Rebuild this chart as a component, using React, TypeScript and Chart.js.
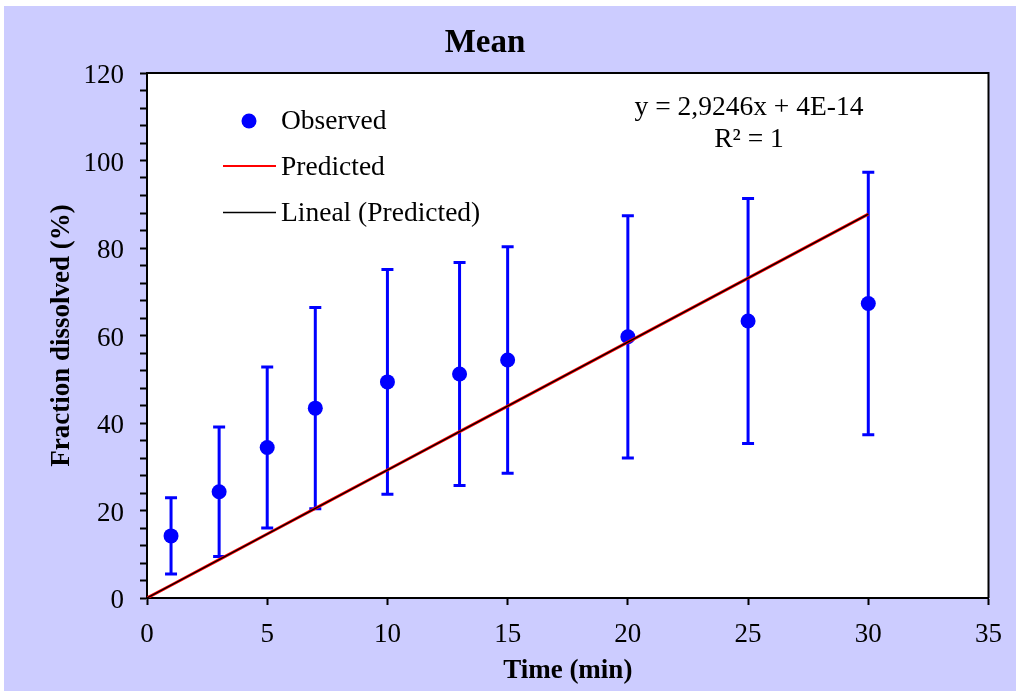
import React, { useEffect, useRef } from "react";
import { Chart, registerables } from "chart.js";

Chart.register(...registerables);

const chartTitle = "Mean";
const xAxisTitle = "Time (min)";
const yAxisTitle = "Fraction dissolved (%)";
const equationLines = ["y = 2,9246x + 4E-14", "R\u00B2 = 1"];

const timeValues = [1, 3, 5, 7, 10, 13, 15, 20, 25, 30];
const observedMean = [14.2, 24.3, 34.4, 43.4, 49.4, 51.2, 54.4, 59.7, 63.3, 67.3];
const observedSD = [8.7, 14.8, 18.4, 23.0, 25.7, 25.5, 25.9, 27.7, 28.0, 30.0];

const predictedTime = [0, 1, 3, 5, 7, 10, 13, 15, 20, 25, 30];
const predictedValues = [0, 2.92, 8.77, 14.62, 20.47, 29.25, 38.02, 43.87, 58.49, 73.12, 87.74];

const trendTime = [0, 30];
const trendValues = [0, 87.74];

const FONT = "'Liberation Serif', 'Times New Roman', serif";
const BLUE = "#0000FF";
const RED = "#FF0000";

const decorPlugin = {
  id: "decor",
  beforeDraw(chart: any) {
    const { ctx, chartArea } = chart;
    ctx.save();
    ctx.fillStyle = "#FFFFFF";
    ctx.fillRect(chartArea.left, chartArea.top, chartArea.right - chartArea.left, chartArea.bottom - chartArea.top);
    ctx.restore();
  },
  beforeDatasetsDraw(chart: any) {
    const { ctx, scales } = chart;
    const xs = scales.x;
    const ys = scales.y;
    ctx.save();
    ctx.strokeStyle = BLUE;
    ctx.lineWidth = 3;
    for (let i = 0; i < timeValues.length; i++) {
      const px = xs.getPixelForValue(timeValues[i]);
      const top = ys.getPixelForValue(observedMean[i] + observedSD[i]);
      const bot = ys.getPixelForValue(observedMean[i] - observedSD[i]);
      ctx.beginPath();
      ctx.moveTo(px, top);
      ctx.lineTo(px, bot);
      ctx.moveTo(px - 6, top);
      ctx.lineTo(px + 6, top);
      ctx.moveTo(px - 6, bot);
      ctx.lineTo(px + 6, bot);
      ctx.stroke();
    }
    ctx.restore();
  },
  afterDraw(chart: any) {
    const { ctx, chartArea } = chart;
    const L = chartArea.left;
    const T = chartArea.top;
    ctx.save();
    // top and right frame
    ctx.strokeStyle = "#000000";
    ctx.lineWidth = 2;
    ctx.beginPath();
    ctx.moveTo(L, T);
    ctx.lineTo(chartArea.right, T);
    ctx.lineTo(chartArea.right, chartArea.bottom);
    ctx.stroke();

    // title
    ctx.fillStyle = "#000000";
    ctx.font = "bold 33px " + FONT;
    ctx.textAlign = "center";
    ctx.textBaseline = "middle";
    ctx.fillText(chartTitle, 481, 37);

    // legend
    const ds = chart.data.datasets;
    ctx.font = "27.5px " + FONT;
    ctx.textAlign = "left";
    ctx.textBaseline = "middle";
    const textX = L + 134;
    const rows = [T + 49, T + 95, T + 141];
    // observed
    ctx.fillStyle = BLUE;
    ctx.beginPath();
    ctx.arc(L + 102, rows[0] - 1, 7.5, 0, Math.PI * 2);
    ctx.fill();
    ctx.fillStyle = "#000000";
    ctx.fillText(ds[0].label, textX, rows[0]);
    // predicted
    ctx.strokeStyle = RED;
    ctx.lineWidth = 2;
    ctx.beginPath();
    ctx.moveTo(L + 76, rows[1] - 2);
    ctx.lineTo(L + 129, rows[1] - 2);
    ctx.stroke();
    ctx.fillText(ds[1].label, textX, rows[1]);
    // trend
    ctx.strokeStyle = "#000000";
    ctx.lineWidth = 1.5;
    ctx.beginPath();
    ctx.moveTo(L + 76, rows[2] - 1.5);
    ctx.lineTo(L + 129, rows[2] - 1.5);
    ctx.stroke();
    ctx.fillText(ds[2].label, textX, rows[2]);

    // equation
    ctx.textAlign = "center";
    ctx.fillText(equationLines[0], L + 602, T + 35);
    ctx.fillText(equationLines[1], L + 602, T + 67);
    ctx.restore();
  },
};

export default function App() {
  const ref = useRef<HTMLCanvasElement | null>(null);

  useEffect(() => {
    if (!ref.current) return;
    const chart = new Chart(ref.current, {
      type: "scatter",
      data: {
        datasets: [
          {
            label: "Observed",
            data: timeValues.map((x, i) => ({ x, y: observedMean[i] })),
            showLine: false,
            pointRadius: 7.5,
            pointHoverRadius: 7.5,
            pointBackgroundColor: BLUE,
            pointBorderColor: BLUE,
            pointBorderWidth: 0,
            order: 3,
          },
          {
            label: "Predicted",
            data: predictedTime.map((x, i) => ({ x, y: predictedValues[i] })),
            showLine: true,
            borderColor: RED,
            borderWidth: 3,
            pointRadius: 0,
            order: 2,
          },
          {
            label: "Lineal (Predicted)",
            data: trendTime.map((x, i) => ({ x, y: trendValues[i] })),
            showLine: true,
            borderColor: "#000000",
            borderWidth: 1.3,
            pointRadius: 0,
            order: 1,
          },
        ],
      },
      options: {
        responsive: false,
        animation: false,
        devicePixelRatio: 1,
        layout: { padding: { left: 0, top: 67, right: 27, bottom: 0 } },
        plugins: {
          legend: { display: false },
          tooltip: { enabled: false },
          title: { display: false },
        },
        scales: {
          x: {
            type: "linear",
            min: 0,
            max: 35,
            afterFit: (s: any) => {
              s.height = 93;
            },
            ticks: {
              stepSize: 5,
              autoSkip: false,
              maxRotation: 0,
              color: "#000000",
              padding: 14,
              font: { family: FONT, size: 27 },
            },
            grid: {
              drawOnChartArea: false,
              drawTicks: true,
              tickLength: 7,
              tickWidth: 2,
              tickColor: "#000000",
            },
            border: { display: true, color: "#000000", width: 2 },
            title: {
              display: true,
              text: xAxisTitle,
              color: "#000000",
              font: { family: FONT, size: 27, weight: "bold" },
              padding: { top: 0, bottom: 4 },
            },
          },
          y: {
            type: "linear",
            min: 0,
            max: 120,
            afterFit: (s: any) => {
              s.width = 143;
            },
            ticks: {
              stepSize: 4,
              autoSkip: false,
              color: "#000000",
              padding: 16,
              labelOffset: 3,
              font: { family: FONT, size: 27 },
              callback: (v: any) => (Number(v) % 20 === 0 ? String(v) : ""),
            },
            grid: {
              drawOnChartArea: false,
              drawTicks: true,
              tickLength: 7,
              tickWidth: 2,
              tickColor: "#000000",
            },
            border: { display: true, color: "#000000", width: 2 },
            title: {
              display: true,
              text: yAxisTitle,
              color: "#000000",
              font: { family: FONT, size: 27, weight: "bold" },
              padding: { top: 42, bottom: 0 },
            },
          },
        },
      },
      plugins: [decorPlugin],
    });
    return () => chart.destroy();
  }, []);

  return (
    <div
      style={{
        position: "fixed",
        left: 4,
        top: 6,
        width: 1012,
        height: 685,
        background: "#CCCCFF",
      }}
    >
      <canvas ref={ref} width={1012} height={685} style={{ display: "block" }} />
    </div>
  );
}
